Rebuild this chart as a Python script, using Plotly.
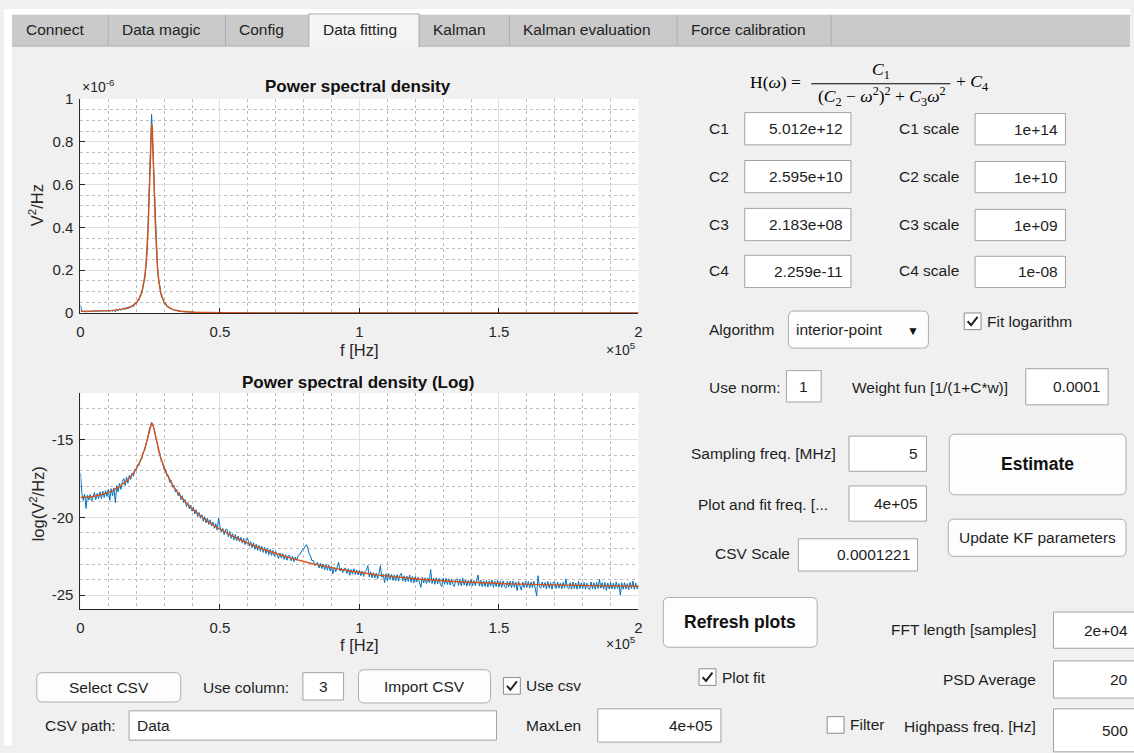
import numpy as np
import plotly.graph_objects as go

W, H = 1134, 753
SANS = "Liberation Sans, Arial, Helvetica, sans-serif"
SERIF = "Liberation Serif, Times New Roman, serif"

# ---------------------------------------------------------------- values
# model coefficients and their scaling factors
COEF_NAMES = ["C1", "C2", "C3", "C4"]
COEF_VALUES = [5.012e12, 2.595e10, 2.183e8, 2.259e-11]
COEF_SCALES = [1e14, 1e10, 1e9, 1e-8]

# acquisition / processing settings
SAMPLING_MHZ = 5
FFT_LENGTH = 2e4
PLOT_FIT_FREQ = 4e5
CSV_SCALE = "0.0001221"
USE_NORM = "1"
WEIGHT_C = "0.0001"
PSD_AVERAGE = "20"
HIGHPASS_HZ = "500"
MAX_LEN = "4e+05"
USE_COLUMN = "3"
CSV_PATH = "Data"
ALGORITHM = "interior-point"

# axis limits and ticks
F_MAX = 2e5
F_TICKS = [0, 5e4, 1e5, 1.5e5, 2e5]
F_TICK_TEXT = ["0", "0.5", "1", "1.5", "2"]
LIN_TICKS = [0, 2e-7, 4e-7, 6e-7, 8e-7, 1e-6]
LIN_TICK_TEXT = ["0", "0.2", "0.4", "0.6", "0.8", "1"]
LOG_RANGE = [-25.9, -12]
LOG_TICKS = [-25, -20, -15]
LOG_TICK_TEXT = ["-25", "-20", "-15"]

# measured PSD, natural log of V^2/Hz, one value every 500 Hz from 0 to 200 kHz
PSD_STEP_HZ = 500
PSD_LOG = [
    -17.15, -18.45, -18.90, -18.50, -19.42, -18.55, -18.88, -18.52, -18.95, -18.58,
    -18.40, -18.85, -18.45, -18.80, -18.35, -18.78, -18.30, -18.72, -18.28, -18.65,
    -18.20, -18.90, -18.15, -18.60, -18.10, -19.05, -17.95, -18.35, -17.80, -18.20,
    -17.70, -17.50, -17.95, -17.40, -17.80, -17.30, -17.55, -17.15, -17.35, -16.90,
    -16.95, -16.62, -16.65, -16.25, -16.22, -15.80, -15.70, -15.20, -15.02, -14.45,
    -14.10, -13.89, -14.10, -14.35, -14.90, -15.20, -15.75, -15.90, -16.40, -16.50,
    -16.95, -16.90, -17.35, -17.30, -17.75, -17.60, -18.05, -17.92, -18.35, -18.20,
    -18.60, -18.40, -18.85, -18.60, -19.05, -18.85, -19.30, -19.05, -19.45, -19.20,
    -19.60, -19.35, -19.78, -19.50, -19.95, -19.68, -20.05, -19.82, -20.25, -19.95,
    -20.35, -20.05, -20.45, -20.15, -20.55, -20.30, -20.70, -20.40, -20.82, -20.05,
    -20.60, -20.95, -20.70, -21.10, -20.80, -20.75, -21.25, -20.90, -21.35, -21.05,
    -21.45, -21.10, -21.50, -21.20, -21.55, -21.28, -21.65, -21.35, -21.75, -21.35,
    -21.38, -21.85, -21.55, -21.95, -21.62, -22.05, -21.72, -22.12, -21.80, -22.18,
    -21.85, -22.25, -21.92, -22.32, -22.00, -22.40, -22.05, -22.45, -22.12, -22.50,
    -22.20, -22.50, -22.65, -22.28, -22.62, -22.32, -22.70, -22.40, -22.75, -22.45,
    -22.45, -22.80, -22.50, -22.85, -22.55, -22.75, -22.45, -22.40, -22.20, -22.10,
    -22.00, -21.88, -21.75, -22.00, -22.35, -22.50, -22.80, -22.78, -23.10, -22.95,
    -22.90, -23.25, -22.95, -23.30, -23.00, -23.38, -23.02, -23.40, -23.08, -23.45,
    -23.15, -23.62, -23.20, -23.50, -23.15, -22.88, -23.45, -23.25, -23.55, -23.30,
    -23.25, -23.60, -23.30, -23.72, -23.35, -23.65, -23.30, -23.68, -23.38, -23.70,
    -23.40, -23.75, -23.45, -23.80, -23.48, -23.40, -23.10, -23.82, -23.50, -23.88,
    -23.55, -23.90, -23.58, -23.95, -23.60, -23.10, -23.85, -23.65, -24.20, -23.62,
    -24.05, -23.62, -24.00, -23.65, -24.05, -23.70, -24.08, -23.68, -24.10, -23.72,
    -23.60, -24.10, -23.75, -24.15, -23.78, -24.12, -23.70, -24.18, -23.80, -24.20,
    -23.80, -24.15, -23.85, -24.20, -24.50, -23.85, -24.22, -23.88, -24.25, -23.90,
    -24.20, -23.35, -24.25, -23.90, -24.30, -23.88, -24.28, -23.92, -24.30, -24.45,
    -23.90, -24.30, -23.92, -24.32, -23.95, -24.35, -23.98, -24.30, -24.45, -24.00,
    -23.95, -24.38, -24.00, -24.40, -23.90, -24.35, -24.02, -24.42, -24.05, -24.40,
    -24.00, -24.40, -24.05, -24.38, -24.02, -23.70, -24.42, -24.05, -24.45, -24.08,
    -24.45, -24.05, -24.48, -24.08, -24.42, -24.02, -24.50, -24.10, -24.45, -24.05,
    -24.48, -24.10, -24.50, -24.08, -24.45, -24.55, -24.12, -24.48, -24.10, -24.52,
    -24.10, -24.50, -24.15, -24.70, -24.12, -24.48, -24.68, -24.15, -24.52, -24.12,
    -24.50, -24.12, -24.55, -24.15, -24.52, -24.10, -24.48, -25.05, -23.75, -24.45,
    -24.55, -24.15, -24.52, -24.18, -24.60, -24.12, -24.55, -24.20, -24.62, -24.15,
    -24.20, -24.58, -24.15, -24.55, -24.22, -24.60, -24.18, -24.55, -23.95, -24.52,
    -24.60, -24.20, -24.62, -24.15, -24.58, -24.22, -24.62, -24.12, -24.58, -24.20,
    -24.58, -24.18, -24.62, -24.22, -24.55, -24.65, -24.15, -24.60, -24.20, -24.62,
    -24.18, -24.58, -23.98, -24.55, -24.20, -24.62, -24.18, -24.70, -24.22, -24.60,
    -24.18, -24.60, -24.22, -24.62, -24.15, -24.58, -24.25, -25.00, -24.20, -24.62,
    -24.20, -24.60, -24.25, -24.65, -24.18, -24.58, -24.10, -24.62, -24.22, -24.60,
    -24.40,
]

TABS = ["Connect", "Data magic", "Config", "Data fitting", "Kalman",
        "Kalman evaluation", "Force calibration"]
ACTIVE_TAB = "Data fitting"

# ---------------------------------------------------------------- series
f_meas = np.arange(len(PSD_LOG)) * PSD_STEP_HZ
psd_log = np.array(PSD_LOG)
psd_lin = np.exp(psd_log)

# fitted model H(w) = C1 / ((C2 - w^2)^2 + C3 w^2) + C4 on the FFT bin grid
bin_hz = SAMPLING_MHZ * 1e6 / FFT_LENGTH
f_fit = np.arange(0, F_MAX + bin_hz, bin_hz)
w2 = (2 * np.pi * f_fit) ** 2
c1, c2, c3, c4 = COEF_VALUES
h_fit = c1 / ((c2 - w2) ** 2 + c3 * w2) + c4

BLUE = "#0072BD"
ORANGE = "#D95319"
AX = "#262626"
GRID = "#dfdfdf"
MINOR = "#bdbdbd"
TXT = "#1e1e1e"


# window pixel -> paper coordinates
def X(px):
    return px / W


def Y(py):
    return 1 - py / H


fig = go.Figure()
fig.add_trace(go.Scatter(x=f_meas, y=psd_lin, mode="lines", line=dict(color=BLUE, width=1),
                         xaxis="x", yaxis="y", hoverinfo="skip"))
fig.add_trace(go.Scatter(x=f_fit, y=h_fit, mode="lines", line=dict(color=ORANGE, width=1.4),
                         xaxis="x", yaxis="y", hoverinfo="skip"))
fig.add_trace(go.Scatter(x=f_meas, y=psd_log, mode="lines", line=dict(color=BLUE, width=1),
                         xaxis="x2", yaxis="y2", hoverinfo="skip"))
fig.add_trace(go.Scatter(x=f_fit, y=np.log(h_fit), mode="lines", line=dict(color=ORANGE, width=1.4),
                         xaxis="x2", yaxis="y2", hoverinfo="skip"))


def axis_style(**kw):
    d = dict(showgrid=True, gridcolor=GRID, gridwidth=1, showline=True, linecolor=AX,
             linewidth=1, ticks="inside", ticklen=5, tickwidth=1, tickcolor=AX,
             zeroline=False, fixedrange=True, tickmode="array",
             tickfont=dict(family=SANS, size=15, color=AX))
    d.update(kw)
    return d


def minor(dtick):
    return dict(tick0=0, dtick=dtick, showgrid=True, gridcolor=MINOR, griddash="dot",
                gridwidth=1, ticks="")


x_dom = [X(77), X(639)]
fig.update_layout(
    width=W, height=H, margin=dict(l=0, r=0, t=0, b=0),
    paper_bgcolor="#f0f0f0", plot_bgcolor="white", showlegend=False,
    xaxis=axis_style(domain=x_dom, anchor="y", range=[0, F_MAX], tickvals=F_TICKS,
                     ticktext=F_TICK_TEXT, minor=minor(1e4), ticklabelstandoff=5),
    yaxis=axis_style(domain=[Y(311), Y(92)], anchor="x", range=[0, 1e-6], tickvals=LIN_TICKS,
                     ticktext=LIN_TICK_TEXT, minor=minor(5e-8), ticklabelstandoff=3),
    xaxis2=axis_style(domain=x_dom, anchor="y2", range=[0, F_MAX], tickvals=F_TICKS,
                      ticktext=F_TICK_TEXT, minor=minor(1e4), ticklabelstandoff=5),
    yaxis2=axis_style(domain=[Y(614), Y(393)], anchor="x2", range=LOG_RANGE, tickvals=LOG_TICKS,
                      ticktext=LOG_TICK_TEXT, minor=minor(1), ticklabelstandoff=3),
)

shapes = []
annotations = []


def rect(x0, y0, x1, y1, fill, line=None, width=1):
    shapes.append(dict(type="rect", xref="paper", yref="paper", x0=X(x0), x1=X(x1),
                       y0=Y(y1), y1=Y(y0), fillcolor=fill,
                       line=dict(color=line or fill, width=width if line else 0)))


def seg(x0, y0, x1, y1, color, width=1):
    shapes.append(dict(type="line", xref="paper", yref="paper", x0=X(x0), x1=X(x1),
                       y0=Y(y0), y1=Y(y1), line=dict(color=color, width=width)))


def rrect(x0, y0, x1, y1, r, fill, line):
    rx, ry = r / W, r / H
    a, b, top, bot = X(x0), X(x1), Y(y0), Y(y1)
    path = (f"M{a + rx},{top} L{b - rx},{top} Q{b},{top} {b},{top - ry} "
            f"L{b},{bot + ry} Q{b},{bot} {b - rx},{bot} L{a + rx},{bot} "
            f"Q{a},{bot} {a},{bot + ry} L{a},{top - ry} Q{a},{top} {a + rx},{top} Z")
    shapes.append(dict(type="path", xref="paper", yref="paper", path=path,
                       fillcolor=fill, line=dict(color=line, width=1)))


def text(x, y, s, size=15.5, anchor="left", color=TXT, family=SANS, angle=0):
    annotations.append(dict(xref="paper", yref="paper", x=X(x), y=Y(y), text=s,
                            showarrow=False, xanchor=anchor, yanchor="middle",
                            textangle=angle, borderpad=0,
                            font=dict(size=size, color=color, family=family)))


def field(x0, y0, x1, y1, value, align="right"):
    rect(x0, y0, x1, y1, "white", "#a3a3a3")
    if align == "right":
        text(x1 - 7, (y0 + y1) / 2, value, anchor="right")
    elif align == "center":
        text((x0 + x1) / 2, (y0 + y1) / 2, value, anchor="center")
    else:
        text(x0 + 7, (y0 + y1) / 2, value, anchor="left")


def button(x0, y0, x1, y1, label, bold=False, size=15.5):
    rrect(x0, y0, x1, y1, 6, "#fdfdfd", "#adadad")
    text((x0 + x1) / 2, (y0 + y1) / 2, f"<b>{label}</b>" if bold else label,
         size=size, anchor="center", color="#111" if bold else TXT)


def checkbox(x0, y0, label, checked):
    s = 17
    rect(x0, y0, x0 + s, y0 + s, "white", "#8c8c8c")
    if checked:
        pts = [(x0 + 3.5, y0 + 8.5), (x0 + 7, y0 + 12.5), (x0 + 13.5, y0 + 4)]
        path = "M" + " L".join(f"{X(px)},{Y(py)}" for px, py in pts)
        shapes.append(dict(type="path", xref="paper", yref="paper", path=path,
                           line=dict(color="#222", width=2)))
    text(x0 + s + 5, y0 + s / 2, label)


# ---- window frame and tab strip
rect(0, 0, W, 6, "white")
rect(0, 0, 8, H, "white")
rect(8, 6, W, 38, "#cacaca")
seg(8, 38, W, 38, "#b4b4b4")
tab_edges = [8, 105, 223, 307, 418, 509, 678, 833]
for e in tab_edges[1:]:
    seg(e, 6, e, 38, "#b0b0b0")
i_act = TABS.index(ACTIVE_TAB)
rect(tab_edges[i_act], 5, tab_edges[i_act + 1], 39, "#f4f4f4")
seg(tab_edges[i_act], 5, tab_edges[i_act], 39, "#b0b0b0")
seg(tab_edges[i_act + 1], 5, tab_edges[i_act + 1], 39, "#b0b0b0")
seg(tab_edges[i_act], 5, tab_edges[i_act + 1], 5, "#b0b0b0")
for name, e in zip(TABS, tab_edges):
    text(e + 13, 21, name, size=15.5, color="#222")

# ---- axes annotations
text(357, 79, "<b>Power spectral density</b>", size=17, anchor="center", color="#111")
text(357, 382, "<b>Power spectral density (Log)</b>", size=17, anchor="center", color="#111")
text(78, 79, "×10<sup>-6</sup>", size=14, color=AX)
text(638, 348, "×10<sup>5</sup>", size=14, anchor="right", color=AX)
text(638, 649, "×10<sup>5</sup>", size=14, anchor="right", color=AX)
text(358, 349, "f [Hz]", size=16.5, anchor="center", color=AX)
text(358, 651, "f [Hz]", size=16.5, anchor="center", color=AX)
text(33, 201, "V<sup>2</sup>/Hz", size=16.5, anchor="center", color=AX, angle=-90)
text(33, 506, "log(V<sup>2</sup>/Hz)", size=16.5, anchor="center", color=AX, angle=-90)

# ---- model formula
text(750, 75, "H(<i>ω</i>) =", size=17.5, family=SERIF, color="#000")
text(883, 63, "<i>C</i><sub>1</sub>", size=17.5, family=SERIF, anchor="center", color="#000")
seg(813, 76.5, 953, 76.5, "#000", 1.2)
text(884, 90, "(<i>C</i><sub>2</sub> − <i>ω</i><sup>2</sup>)<sup>2</sup> + <i>C</i><sub>3</sub><i>ω</i><sup>2</sup>",
     size=17.5, family=SERIF, anchor="center", color="#000")
text(958, 75, "+ <i>C</i><sub>4</sub>", size=17.5, family=SERIF, color="#000")

# ---- coefficient rows
row_tops = [106, 155, 204, 252]
for name, val, scale, top in zip(COEF_NAMES, COEF_VALUES, COEF_SCALES, row_tops):
    text(709, top + 16, name)
    field(746, top, 853, top + 33, f"{val:.3e}")
    text(900, top + 16, f"{name} scale")
    field(978, top + 1, 1069, top + 33, f"{scale:.0e}")

# ---- optimiser settings
text(709, 328, "Algorithm")
rrect(790, 309, 931, 347, 6, "#fdfdfd", "#adadad")
text(797, 328, ALGORITHM)
text(915, 329, "▼", size=12, anchor="center", color="#111")
checkbox(967, 311, "Fit logarithm", True)

text(709, 387, "Use norm:")
field(788, 370, 823, 402, USE_NORM, align="center")
text(853, 387, "Weight fun [1/(1+C*w)]")
field(1029, 368, 1112, 405, WEIGHT_C)

text(691, 455, "Sampling freq. [MHz]")
field(851, 437, 929, 473, f"{SAMPLING_MHZ:g}")
text(698, 507, "Plot and fit freq. [...")
field(851, 488, 929, 524, f"{PLOT_FIT_FREQ:.0e}")
text(715, 557, "CSV Scale")
field(800, 542, 920, 575, CSV_SCALE)

button(952, 435, 1130, 497, "Estimate", bold=True, size=17.5)
button(951, 522, 1130, 560, "Update KF parameters")
button(664, 602, 819, 653, "Refresh plots", bold=True, size=17.5)

# ---- PSD settings
text(1040, 635, "FFT length [samples]", anchor="right")
field(1057, 617, 1140, 654, f"{FFT_LENGTH:.0e}")
text(1040, 686, "PSD Average", anchor="right")
field(1057, 667, 1140, 705, PSD_AVERAGE)
text(1040, 734, "Highpass freq. [Hz]", anchor="right")
field(1057, 716, 1140, 760, HIGHPASS_HZ)
checkbox(700, 675, "Plot fit", True)
checkbox(829, 724, "Filter", False)
text(525, 733, "MaxLen")
field(598, 716, 722, 750, MAX_LEN)

# ---- CSV import
button(33, 679, 178, 709, "Select CSV")
text(199, 694, "Use column:")
field(301, 679, 342, 707, USE_COLUMN, align="center")
button(357, 676, 490, 710, "Import CSV")
checkbox(503, 684, "Use csv", True)
text(40, 733, "CSV path:")
field(126, 718, 496, 748, CSV_PATH, align="left")

fig.update_layout(shapes=shapes, annotations=annotations)
fig.write_html("out.html", config=dict(displayModeBar=False, staticPlot=True))
